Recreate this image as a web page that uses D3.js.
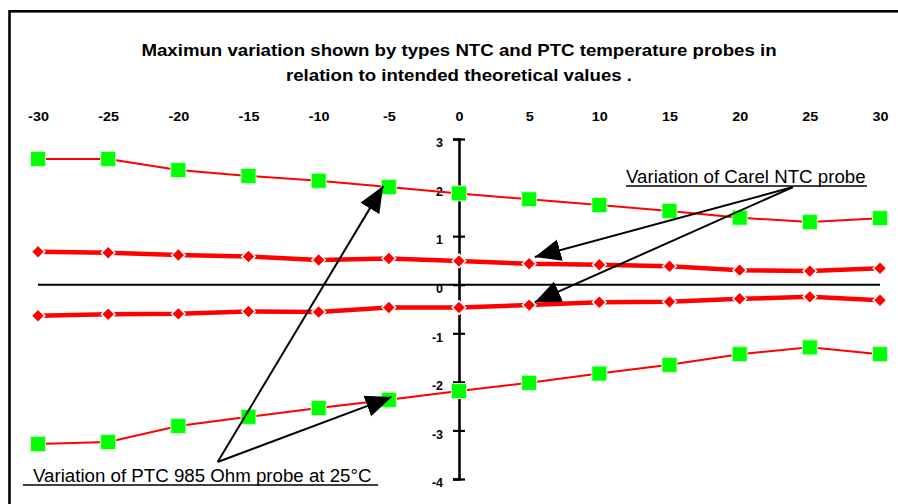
<!DOCTYPE html>
<html>
<head>
<meta charset="utf-8">
<script src="https://cdn.jsdelivr.net/npm/d3@7"></script>
<style>
  body { margin: 0; background: #fff; }
  text { font-family: "Liberation Sans", Arial, sans-serif; }
</style>
</head>
<body>
<div id="viz"></div>
<script>
// temperatures (top axis)
var temps = [-30, -25, -20, -15, -10, -5, 0, 5, 10, 15, 20, 25, 30];
var yTicks = [3, 2, 1, 0, -1, -2, -3, -4];

// PTC 985 Ohm probe, upper / lower limit
var ptcUpper = [2.59, 2.59, 2.36, 2.24, 2.14, 2.01, 1.88, 1.76, 1.64, 1.52, 1.38, 1.29, 1.37];
var ptcLower = [-3.28, -3.24, -2.91, -2.72, -2.54, -2.37, -2.19, -2.02, -1.83, -1.65, -1.43, -1.29, -1.43];
// Carel NTC probe, upper / lower limit
var ntcUpper = [0.68, 0.66, 0.61, 0.58, 0.51, 0.54, 0.49, 0.43, 0.41, 0.38, 0.30, 0.28, 0.34];
var ntcLower = [-0.64, -0.61, -0.60, -0.55, -0.56, -0.47, -0.47, -0.42, -0.36, -0.35, -0.29, -0.25, -0.32];

var titleLines = ["Maximun variation shown by types NTC and PTC temperature probes in",
                  "relation to intended theoretical values ."];

var W = 898, H = 504;

var svg = d3.select('#viz').append('svg')
    .attr('width', W)
    .attr('height', H);

var x = d3.scaleLinear().domain([-30, 30]).range([38, 880]);
var y = d3.scaleLinear().domain([-4, 3]).range([479, 139]);

// plain hyphen minus, like the original
var fmt = function(d) { return String(d); };

// stretch text horizontally like the original
function stretch(sel, k) {
    sel.each(function() {
        var len = this.getComputedTextLength();
        d3.select(this).attr('textLength', len * k).attr('lengthAdjust', 'spacingAndGlyphs');
    });
}

// frame
svg.append('rect')
    .attr('x', 9.5).attr('y', 11.3)
    .attr('width', W + 20).attr('height', H + 20)
    .attr('fill', 'none')
    .attr('stroke', '#000')
    .attr('stroke-width', 2.6);

// title
svg.selectAll('text.title')
    .data(titleLines)
    .enter().append('text')
    .attr('class', 'title')
    .attr('x', 459)
    .attr('y', function(d, i) { return 56 + i * 25; })
    .attr('text-anchor', 'middle')
    .style('font-size', '16.5px')
    .style('font-weight', 'bold')
    .text(function(d) { return d; })
    .call(stretch, 1.13);

// top axis labels
var xAxis = svg.append('g')
    .attr('transform', 'translate(0,121)')
    .call(d3.axisTop(x).tickValues(temps).tickFormat(fmt).tickSize(0).tickPadding(0));
xAxis.select('.domain').remove();
xAxis.selectAll('text')
    .style('font-size', '12.5px')
    .style('font-weight', 'bold')
    .style('font-family', '"Liberation Sans", Arial, sans-serif')
    .attr('fill', '#000')
    .call(stretch, 1.15);

// zero line
svg.append('line')
    .attr('x1', x(-30)).attr('x2', x(30))
    .attr('y1', y(0)).attr('y2', y(0))
    .attr('stroke', '#000')
    .attr('stroke-width', 2);

// y axis at x = 0
var yAxis = svg.append('g')
    .attr('transform', 'translate(' + x(0) + ',0)')
    .call(d3.axisLeft(y).tickValues(yTicks).tickFormat(fmt).tickSize(6).tickPadding(10));
yAxis.select('.domain').attr('stroke-width', 2.6).attr('stroke', '#000');
yAxis.selectAll('.tick line').attr('stroke-width', 2.2).attr('stroke', '#000');
yAxis.selectAll('.tick').append('line')
    .attr('x2', 6)
    .attr('stroke', '#000')
    .attr('stroke-width', 2.2);
yAxis.selectAll('text')
    .style('font-size', '12.5px')
    .style('font-weight', 'bold')
    .style('font-family', '"Liberation Sans", Arial, sans-serif')
    .attr('fill', '#000')
    .attr('dy', '0.62em');

// series
var series = [
    { vals: ptcUpper, type: 'ptc' },
    { vals: ptcLower, type: 'ptc' },
    { vals: ntcUpper, type: 'ntc' },
    { vals: ntcLower, type: 'ntc' }
];

var line = d3.line()
    .x(function(d, i) { return x(temps[i]); })
    .y(function(d) { return y(d); });

series.forEach(function(s) {
    svg.append('path')
        .attr('d', line(s.vals))
        .attr('fill', 'none')
        .attr('stroke', '#ff0000')
        .attr('stroke-width', s.type == 'ntc' ? 4.5 : 2);
});

series.forEach(function(s) {
    var g = svg.append('g');
    if (s.type == 'ptc') {
        g.selectAll('rect')
            .data(s.vals)
            .enter().append('rect')
            .attr('x', function(d, i) { return x(temps[i]) - 7.5; })
            .attr('y', function(d) { return y(d) - 7.5; })
            .attr('width', 15).attr('height', 15)
            .attr('fill', '#00ff00')
            .attr('stroke', '#ccffcc')
            .attr('stroke-width', 1);
    } else {
        g.selectAll('path')
            .data(s.vals)
            .enter().append('path')
            .attr('d', d3.symbol().type(d3.symbolSquare).size(92))
            .attr('transform', function(d, i) { return 'translate(' + x(temps[i]) + ',' + y(d) + ') rotate(45)'; })
            .attr('fill', '#ff0000')
            .attr('stroke', '#fff')
            .attr('stroke-width', 1.5);
    }
});

// annotations (in data units)
var arrows = [
    { from: [23.8, 2.01], to: [5.4, 0.57] },
    { from: [23.8, 2.01], to: [5.4, -0.36] },
    { from: [-17.2, -3.65], to: [-5.4, 2.03] },
    { from: [-17.2, -3.65], to: [-4.8, -2.31] }
];

svg.append('defs').append('marker')
    .attr('id', 'head')
    .attr('viewBox', '0 -12 26 24')
    .attr('refX', 26).attr('refY', 0)
    .attr('markerWidth', 26).attr('markerHeight', 24)
    .attr('markerUnits', 'userSpaceOnUse')
    .attr('orient', 'auto')
    .append('path')
    .attr('d', 'M0,-11L26,0L0,11Z')
    .attr('fill', '#000');

svg.selectAll('line.arrow')
    .data(arrows)
    .enter().append('line')
    .attr('class', 'arrow')
    .attr('x1', function(d) { return x(d.from[0]); })
    .attr('y1', function(d) { return y(d.from[1]); })
    .attr('x2', function(d) { return x(d.to[0]); })
    .attr('y2', function(d) { return y(d.to[1]); })
    .attr('stroke', '#000')
    .attr('stroke-width', 2)
    .attr('marker-end', 'url(#head)');

var labels = [
    { text: 'Variation of Carel NTC probe', x: 626, y: 183, u1: 626, u2: 867, uy: 186 },
    { text: 'Variation of PTC 985 Ohm probe at 25°C', x: 33, y: 482, u1: 23, u2: 378, uy: 485 }
];

labels.forEach(function(l) {
    svg.append('text')
        .attr('x', l.x).attr('y', l.y)
        .style('font-size', '18.7px')
        .attr('fill', '#000')
        .text(l.text);
    svg.append('line')
        .attr('x1', l.u1).attr('x2', l.u2)
        .attr('y1', l.uy).attr('y2', l.uy)
        .attr('stroke', '#000')
        .attr('stroke-width', 1.3);
});
</script>
</body>
</html>
